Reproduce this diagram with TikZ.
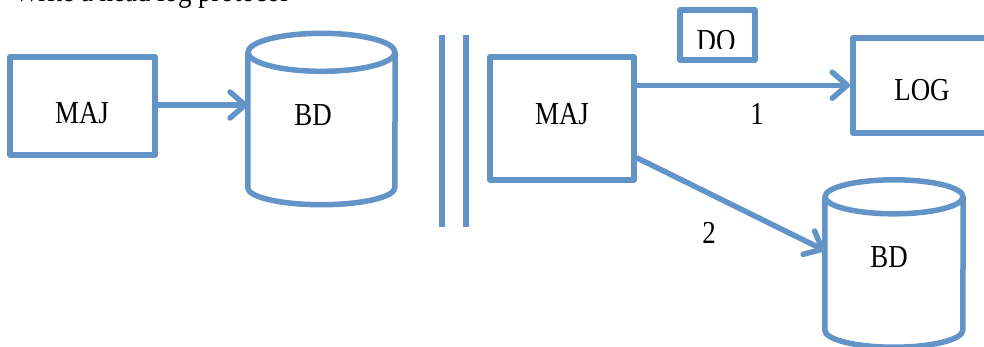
\documentclass[tikz,border=0pt]{standalone}
\usepackage{fontspec}
\setmainfont{Liberation Serif}
\usetikzlibrary{arrows.meta}
\definecolor{blu}{RGB}{98,148,199}
\newcommand{\sq}[1]{\scalebox{0.84}[1]{#1}}
\tikzset{
  ln/.style={draw=blu, line width=5.5pt, line join=round},
  boxnode/.style={ln, rectangle, inner sep=0pt},
  txt/.style={font=\fontsize{32}{36}\selectfont, inner sep=0pt, text=black},
  arr/.style={ln, line cap=round, -{Straight Barb[length=15pt,width=26pt,round]}},
  bdbody/.style={inner sep=0pt, draw=none}
}
\begin{document}
\begin{tikzpicture}[x=1pt,y=-1pt]
\useasboundingbox (0,0) rectangle (984,346);
\clip (0,0) rectangle (984,346);
\fill[white] (0,0) rectangle (984,346);
% title (cut off at top)
\node[txt, anchor=base west] (title) at (14,1) {\sq{Write a head log protocol}};
% left MAJ
\node[boxnode, minimum width=145pt, minimum height=98pt] (maj1) at (82.5,106) {};
\node[txt] (maj1t) at (82,113) {\sq{MAJ}};
% left BD
\node[bdbody, minimum width=147pt, minimum height=135pt] (bd1) at (321.5,120) {};
\draw[ln] (bd1.north west) -- (bd1.south west)
  arc[start angle=180, end angle=360, x radius=73.5pt, y radius=17pt]
  -- (bd1.north east);
\draw[ln] (bd1.north) ellipse[x radius=73.5pt, y radius=19pt];
\node[txt] (bd1t) at (313,115) {\sq{BD}};
% double vertical bar
\coordinate (v1a) at (442,35); \coordinate (v1b) at (442,227);
\coordinate (v2a) at (466,35); \coordinate (v2b) at (466,227);
\draw[ln] (v1a) -- (v1b);
\draw[ln] (v2a) -- (v2b);
% right MAJ
\node[boxnode, minimum width=144pt, minimum height=123pt] (maj2) at (562,118.5) {};
\node[txt] (maj2t) at (562,114) {\sq{MAJ}};
% DO box (text cut off)
\node[boxnode, minimum width=75pt, minimum height=50pt] (do) at (717.5,35) {};
\begin{scope}
\clip (680,10) rectangle (755,48);
\node[txt, anchor=base] (dot) at (716,51) {\sq{DO}};
\end{scope}
% LOG box
\node[boxnode, minimum width=200pt, minimum height=95pt, anchor=north west] (log) at (850,35) {};
\node[txt] (logt) at (922,90) {\sq{LOG}};
% right BD
\node[bdbody, minimum width=138pt, minimum height=133pt] (bd2) at (894,263.5) {};
\draw[ln] (bd2.north west) -- (bd2.south west)
  arc[start angle=180, end angle=360, x radius=69pt, y radius=17pt]
  -- (bd2.north east);
\draw[ln] (bd2.north) ellipse[x radius=69pt, y radius=17pt];
\node[txt] (bd2t) at (889,257) {\sq{BD}};
% arrows
\draw[arr] (maj1.east |- 0,105) -- (bd1.west |- 0,105);
\draw[arr] (maj2.east |- log.west) -- (log.west);
\draw[arr] ([yshift=25pt]maj2.south east) -- ([yshift=13pt]bd2.west);
% labels
\node[txt] (l1) at (757,114) {\sq{1}};
\node[txt] (l2) at (709,233) {\sq{2}};
\end{tikzpicture}
\end{document}
